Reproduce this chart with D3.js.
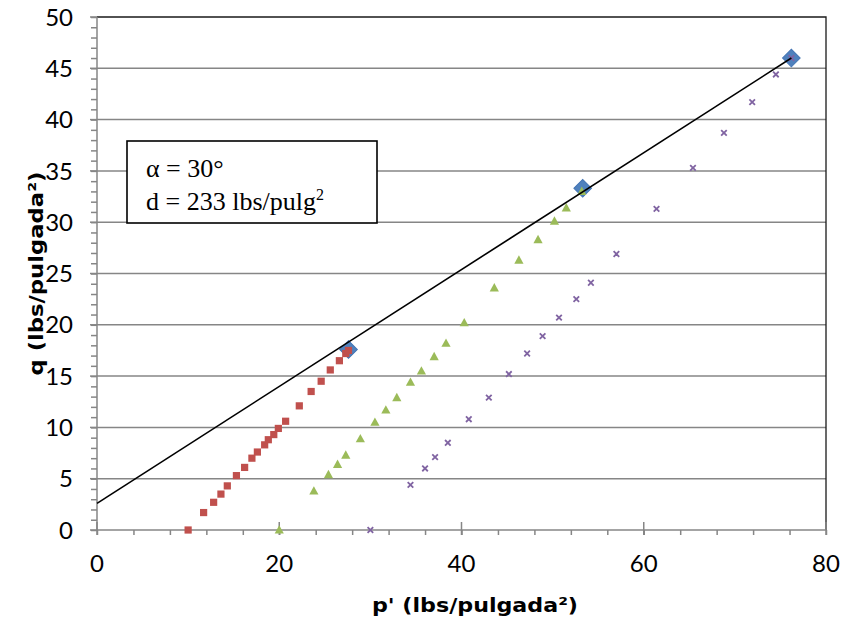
<!DOCTYPE html>
<html>
<head>
<meta charset="utf-8">
<script src="https://cdn.jsdelivr.net/npm/d3@7"></script>
<style>
  html, body { margin: 0; padding: 0; background: #fff; }
  svg { display: block; }
</style>
</head>
<body>
<svg id="chart" width="845" height="622"></svg>
<script>
// Stress paths (p', q) for three confining pressures, plus Mohr-circle peaks and the failure envelope
const pathA_p = [10.0, 11.7, 12.8, 13.6, 14.3, 15.3, 16.2, 17.0, 17.6, 18.4, 18.8, 19.4, 19.9, 20.7, 22.2, 23.5, 24.6, 25.6, 26.6, 27.3, 27.6];
const pathA_q = [0.0, 1.7, 2.7, 3.5, 4.3, 5.3, 6.1, 7.0, 7.6, 8.3, 8.8, 9.3, 9.9, 10.6, 12.1, 13.5, 14.5, 15.6, 16.5, 17.2, 17.5];

const pathB_p = [20.0, 23.8, 25.4, 26.4, 27.3, 28.9, 30.5, 31.7, 32.9, 34.4, 35.6, 37.0, 38.3, 40.3, 43.6, 46.3, 48.4, 50.2, 51.5, 53.2];
const pathB_q = [0.0, 3.8, 5.4, 6.4, 7.3, 8.9, 10.5, 11.7, 12.9, 14.4, 15.5, 16.9, 18.2, 20.2, 23.6, 26.3, 28.3, 30.1, 31.4, 33.0];

const pathC_p = [30.0, 34.4, 36.0, 37.1, 38.5, 40.8, 43.0, 45.2, 47.2, 48.9, 50.7, 52.6, 54.2, 57.0, 61.4, 65.4, 68.8, 71.9, 74.5, 76.2];
const pathC_q = [0.0, 4.4, 6.0, 7.1, 8.5, 10.8, 12.9, 15.2, 17.2, 18.9, 20.7, 22.5, 24.1, 26.9, 31.3, 35.3, 38.7, 41.7, 44.4, 46.0];

const peak_p = [27.6, 53.3, 76.2];
const peak_q = [17.6, 33.3, 46.0];

const envelope_p = [0, 76.2];
const envelope_q = [2.6, 46.0];

const xTicks = [0, 20, 40, 60, 80];
const yTicks = [0, 5, 10, 15, 20, 25, 30, 35, 40, 45, 50];

const xTitle = "p' (lbs/pulgada²)";
const yTitle = "q (lbs/pulgada²)";
const noteLines = ["α = 30°", "d = 233 lbs/pulg"];

const svg = d3.select("#chart");
const plotLeft = 97, plotRight = 826, plotTop = 17, plotBottom = 530;

const x = d3.scaleLinear().domain([0, 80]).range([plotLeft, plotRight]);
const y = d3.scaleLinear().domain([0, 50]).range([plotBottom, plotTop]);

const zip = (ps, qs) => ps.map((p, i) => ({ p, q: qs[i] }));

const labelFont = "Lato, 'Open Sans', sans-serif";
const titleFont = "'DejaVu Sans', 'Open Sans', sans-serif";
const noteFont = "'Liberation Serif', 'Times New Roman', serif";
const axisGray = "#868686";

// Horizontal gridlines
svg.append("g")
  .selectAll("line")
  .data(yTicks.filter(t => t > 0 && t < 50))
  .join("line")
  .attr("x1", plotLeft).attr("x2", plotRight)
  .attr("y1", d => y(d)).attr("y2", d => y(d))
  .attr("stroke", axisGray).attr("stroke-width", 1.5);

// Plot-area border (top and right)
svg.append("path")
  .attr("d", `M${plotLeft},${plotTop}H${plotRight}V${plotBottom}`)
  .attr("fill", "none").attr("stroke", "#1a1a1a").attr("stroke-width", 1.3);

// Y axis: minor ticks every 1, major every 5
const yAxis = svg.append("g").attr("transform", `translate(${plotLeft},0)`);
yAxis.call(d3.axisLeft(y).tickValues(d3.range(0, 51, 1)).tickSize(6).tickFormat(""));
yAxis.select(".domain").remove();
yAxis.selectAll("line").attr("stroke", axisGray).attr("stroke-width", 1.5);
yAxis.append("g")
  .selectAll("line")
  .data(yTicks)
  .join("line")
  .attr("x1", -7).attr("x2", 0)
  .attr("y1", d => y(d)).attr("y2", d => y(d))
  .attr("stroke", axisGray).attr("stroke-width", 1.5);
yAxis.append("line")
  .attr("x1", 0).attr("x2", 0).attr("y1", plotTop).attr("y2", plotBottom)
  .attr("stroke", axisGray).attr("stroke-width", 1.5);
yAxis.append("g")
  .selectAll("text")
  .data(yTicks)
  .join("text")
  .attr("x", -24).attr("y", d => y(d))
  .attr("text-anchor", "end").attr("dy", "0.36em")
  .attr("font-family", labelFont).attr("font-size", 24).attr("fill", "#000")
  .text(d => d);

// X axis: minor ticks every 4, major every 20 crossing the axis
const xAxis = svg.append("g").attr("transform", `translate(0,${plotBottom})`);
xAxis.call(d3.axisBottom(x).tickValues(d3.range(0, 81, 4)).tickSize(5).tickFormat(""));
xAxis.select(".domain").remove();
xAxis.selectAll("line").attr("stroke", axisGray).attr("stroke-width", 1.5);
xAxis.append("g")
  .selectAll("line")
  .data(xTicks)
  .join("line")
  .attr("x1", d => x(d)).attr("x2", d => x(d))
  .attr("y1", -8).attr("y2", 5)
  .attr("stroke", axisGray).attr("stroke-width", 1.5);
xAxis.append("line")
  .attr("x1", plotLeft).attr("x2", plotRight).attr("y1", 0).attr("y2", 0)
  .attr("stroke", axisGray).attr("stroke-width", 1.5);
xAxis.append("g")
  .selectAll("text")
  .data(xTicks)
  .join("text")
  .attr("x", d => x(d)).attr("y", 42)
  .attr("text-anchor", "middle")
  .attr("font-family", labelFont).attr("font-size", 24).attr("fill", "#000")
  .text(d => d);

// Axis titles
svg.append("text")
  .attr("x", 475).attr("y", 612)
  .attr("text-anchor", "middle")
  .attr("font-family", titleFont).attr("font-weight", "bold").attr("font-size", 20)
  .attr("textLength", 206).attr("lengthAdjust", "spacingAndGlyphs")
  .text(xTitle);
svg.append("text")
  .attr("transform", `translate(43,${(plotTop + plotBottom) / 2}) rotate(-90)`)
  .attr("text-anchor", "middle")
  .attr("font-family", titleFont).attr("font-weight", "bold").attr("font-size", 20)
  .attr("textLength", 204).attr("lengthAdjust", "spacingAndGlyphs")
  .text(yTitle);

// Mohr-circle peaks (diamonds)
svg.append("g")
  .selectAll("path")
  .data(zip(peak_p, peak_q))
  .join("path")
  .attr("d", d3.symbol(d3.symbolSquare, 155)())
  .attr("transform", d => `translate(${x(d.p)},${y(d.q)}) rotate(45)`)
  .attr("fill", "#4F81BD").attr("stroke", "#4475B4").attr("stroke-width", 1);

// Stress path A (squares)
svg.append("g")
  .selectAll("rect")
  .data(zip(pathA_p, pathA_q))
  .join("rect")
  .attr("x", d => x(d.p) - 3.6).attr("y", d => y(d.q) - 3.6)
  .attr("width", 7.2).attr("height", 7.2)
  .attr("fill", "#C0504D");

// Stress path B (triangles)
svg.append("g")
  .selectAll("path")
  .data(zip(pathB_p, pathB_q))
  .join("path")
  .attr("transform", d => `translate(${x(d.p)},${y(d.q)})`)
  .attr("d", "M0,-4.8L4.6,3.6L-4.6,3.6Z")
  .attr("fill", "#9BBB59");

// Stress path C (crosses)
svg.append("g")
  .selectAll("path")
  .data(zip(pathC_p, pathC_q))
  .join("path")
  .attr("transform", d => `translate(${x(d.p)},${y(d.q)})`)
  .attr("d", "M-2.8,-2.8L2.8,2.8M-2.8,2.8L2.8,-2.8")
  .attr("stroke", "#8064A2").attr("stroke-width", 1.8).attr("fill", "none");

// Failure envelope
svg.append("path")
  .datum(zip(envelope_p, envelope_q))
  .attr("d", d3.line().x(d => x(d.p)).y(d => y(d.q)))
  .attr("fill", "none").attr("stroke", "#000").attr("stroke-width", 1.6);

// Parameter note box
const note = svg.append("g");
note.append("rect")
  .attr("x", 127).attr("y", 141).attr("width", 250).attr("height", 82)
  .attr("fill", "#fff").attr("stroke", "#000").attr("stroke-width", 1.6);
note.append("text")
  .attr("x", 146).attr("y", 177)
  .attr("font-family", noteFont).attr("font-size", 26)
  .text(noteLines[0]);
const t2 = note.append("text")
  .attr("x", 146).attr("y", 210)
  .attr("font-family", noteFont).attr("font-size", 26)
  .text(noteLines[1]);
t2.append("tspan").attr("dy", -10).attr("font-size", 16).text("2");
</script>
</body>
</html>
